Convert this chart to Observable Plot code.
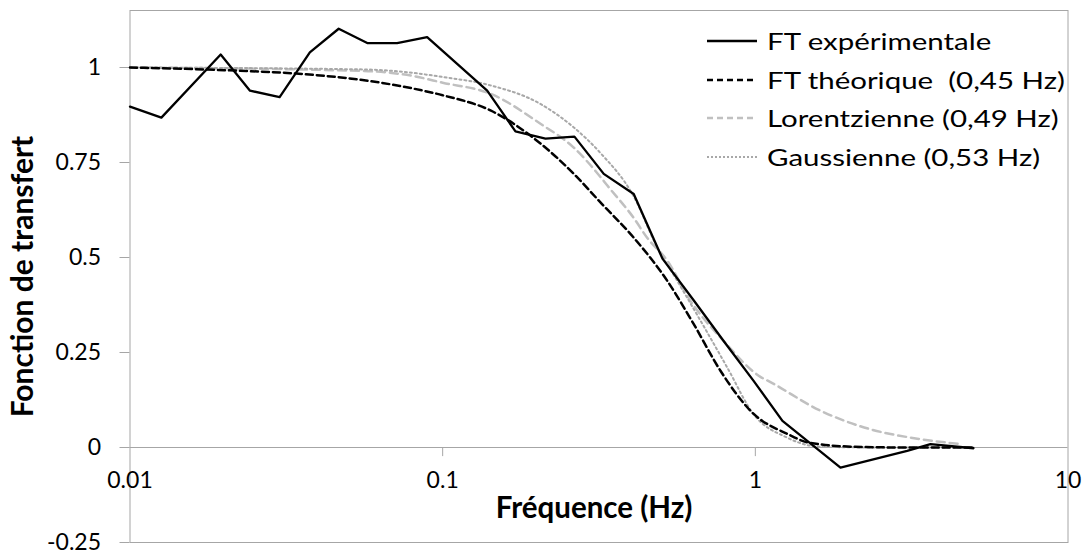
<!DOCTYPE html>
<html>
<head>
<meta charset="utf-8">
<script src="https://cdn.jsdelivr.net/npm/d3@7"></script>
<script src="https://cdn.jsdelivr.net/npm/@observablehq/plot@0.6"></script>
<style>
  html, body { margin: 0; padding: 0; background: white; }
  #wrap { position: relative; width: 1084px; height: 551px; font-family: Lato, sans-serif; }
  #legend { position: absolute; left: 706px; top: 22px; }
  .row { display: flex; align-items: center; height: 38.5px; }
  .row svg { width: 52px; height: 6px; margin-right: 9px; flex: none; }
  .row span { display: inline-block; font-size: 23px; color: #000; white-space: pre; transform: scaleX(1.28); transform-origin: 0 50%; }
</style>
</head>
<body>
<div id="wrap"><div id="legend"></div></div>
<script>
// Experimental transfer function
const expFreq = [0.01, 0.0126, 0.0195, 0.0242, 0.0301, 0.0376, 0.0465, 0.0576, 0.0715, 0.0892, 0.1388, 0.1709, 0.2132, 0.2639, 0.3275, 0.4084, 0.5046, 0.634, 0.7907, 0.986, 1.221, 1.872, 3.059, 3.631, 4.984];
const expVal  = [0.897, 0.868, 1.034, 0.939, 0.922, 1.040, 1.102, 1.064, 1.064, 1.080, 0.939, 0.832, 0.813, 0.818, 0.720, 0.667, 0.497, 0.388, 0.281, 0.176, 0.070, -0.053, -0.009, 0.009, -0.002];

// Theoretical transfer function (0,45 Hz)
const thFreq = [0.01, 0.02, 0.034, 0.0554, 0.08, 0.1, 0.1422, 0.2055, 0.262, 0.3196, 0.4076, 0.5224, 0.634, 0.7734, 0.986, 1.264, 1.479, 2.059, 3.0, 4.984];
const thVal  = [1.0, 0.993, 0.984, 0.967, 0.945, 0.927, 0.887, 0.800, 0.721, 0.645, 0.553, 0.439, 0.326, 0.202, 0.089, 0.036, 0.013, 0.002, 0.0, 0.0];

// Lorentzian (0,49 Hz)
const loFreq = [0.01, 0.0554, 0.08, 0.1, 0.1422, 0.2055, 0.262, 0.3196, 0.3358, 0.4076, 0.4508, 0.5224, 0.6202, 0.7907, 1.038, 1.118, 1.615, 2.334, 3.373, 4.529];
const loVal  = [1.0, 0.991, 0.978, 0.960, 0.931, 0.852, 0.790, 0.712, 0.690, 0.605, 0.552, 0.492, 0.386, 0.281, 0.186, 0.172, 0.097, 0.048, 0.022, 0.009];

// Gaussian (0,53 Hz)
const gaFreq = [0.01, 0.0554, 0.08, 0.1, 0.1422, 0.2055, 0.262, 0.3196, 0.4076, 0.4853, 0.5623, 0.6675, 0.8125, 0.986, 1.264, 1.425, 1.615, 2.5, 4.984];
const gaVal  = [1.0, 0.995, 0.986, 0.975, 0.953, 0.904, 0.843, 0.775, 0.662, 0.527, 0.439, 0.334, 0.211, 0.088, 0.026, 0.009, 0.002, 0.0, 0.0];

const xTicks = [0.01, 0.1, 1, 10];
const xTickLabels = ["0.01", "0.1", "1", "10"];
const yTicks = [-0.25, 0, 0.25, 0.5, 0.75, 1];
const yTickLabels = ["-0.25", "0", "0.25", "0.5", "0.75", "1"];

const seriesNames = ["FT expérimentale", "FT théorique  (0,45 Hz)", "Lorentzienne (0,49 Hz)", "Gaussienne (0,53 Hz)"];
const xTitle = "Fréquence (Hz)";
const yTitle = "Fonction de transfert";

const styles = [
  {stroke: "#000000", strokeWidth: 2.3, dash: null, legendDash: null},
  {stroke: "#000000", strokeWidth: 2.5, dash: "7,4", legendDash: "6,4"},
  {stroke: "#c0c0c0", strokeWidth: 2.5, dash: "8,5", legendDash: "6,4"},
  {stroke: "#a8a8a8", strokeWidth: 2, dash: "2,3", legendDash: "2,2"}
];

const toRows = (fs, vs) => fs.map((f, i) => ({f, v: vs[i]}));
const expData = toRows(expFreq, expVal);
const thData = toRows(thFreq, thVal);
const loData = toRows(loFreq, loVal);
const gaData = toRows(gaFreq, gaVal);

const axisColor = "#a6a6a6";

const chart = Plot.plot({
  width: 1084,
  height: 551,
  marginLeft: 129.5,
  marginRight: 16.5,
  marginTop: 10,
  marginBottom: 9,
  x: {type: "log", domain: [0.01, 10], axis: null},
  y: {domain: [-0.25, 1.15], axis: null},
  style: {fontFamily: "Lato, sans-serif", background: "white", color: "#000"},
  marks: [
    Plot.frame({stroke: axisColor, strokeWidth: 1}),
    Plot.ruleY([0], {stroke: axisColor, strokeWidth: 1}),
    Plot.ruleX(xTicks.slice(1, 3), {x: d => d, y1: 0, y2: -0.024, stroke: axisColor}),
    Plot.text(xTicks, {x: d => d, y: 0, dy: 33, text: (d, i) => xTickLabels[i], fontSize: 23, fill: "#000"}),
    Plot.axisY(yTicks, {anchor: "left", tickSize: 10, tickPadding: 19, fontSize: 23, stroke: axisColor, fill: "#000", tickFormat: (d) => yTickLabels[yTicks.indexOf(d)], label: null}),
    Plot.line(loData, {x: "f", y: "v", stroke: styles[2].stroke, strokeWidth: styles[2].strokeWidth, strokeDasharray: styles[2].dash, curve: "monotone-x"}),
    Plot.line(gaData, {x: "f", y: "v", stroke: styles[3].stroke, strokeWidth: styles[3].strokeWidth, strokeDasharray: styles[3].dash, curve: "monotone-x"}),
    Plot.line(thData, {x: "f", y: "v", stroke: styles[1].stroke, strokeWidth: styles[1].strokeWidth, strokeDasharray: styles[1].dash, curve: "monotone-x"}),
    Plot.line(expData, {x: "f", y: "v", stroke: styles[0].stroke, strokeWidth: styles[0].strokeWidth}),
    Plot.text([yTitle], {frameAnchor: "left", dx: -106.5, rotate: -90, textAnchor: "middle", lineAnchor: "middle", fontWeight: "bold", fontSize: 30, fill: "#000"}),
    Plot.text([xTitle], {frameAnchor: "bottom", dy: -34, dx: -5, textAnchor: "middle", lineAnchor: "middle", fontWeight: "bold", fontSize: 29.5, fill: "#000"})
  ]
});

const wrap = document.getElementById("wrap");
wrap.insertBefore(chart, wrap.firstChild);

const legend = document.getElementById("legend");
seriesNames.forEach((name, i) => {
  const row = document.createElement("div");
  row.className = "row";
  const s = styles[i];
  row.innerHTML = `<svg viewBox="0 0 52 6"><line x1="1" y1="3" x2="51" y2="3" stroke="${s.stroke}" stroke-width="${s.strokeWidth}" ${s.legendDash ? `stroke-dasharray="${s.legendDash}"` : ""}/></svg><span>${name}</span>`;
  legend.appendChild(row);
});
</script>
</body>
</html>
